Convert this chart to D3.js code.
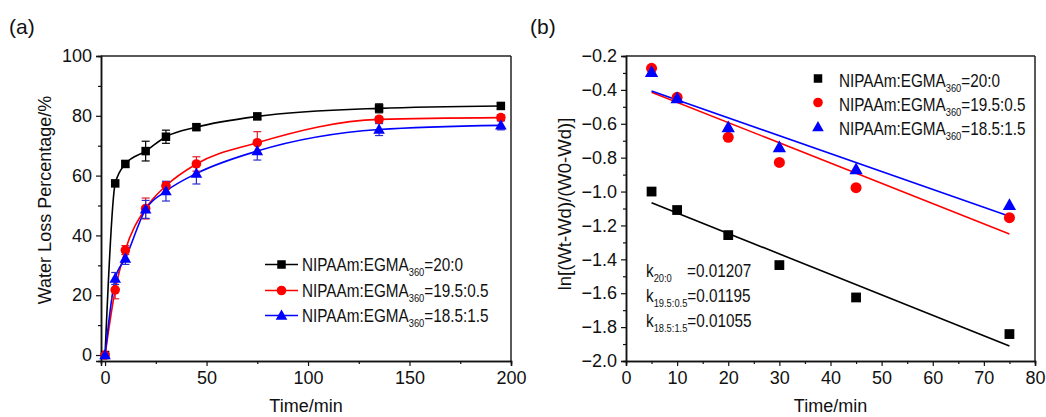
<!DOCTYPE html>
<html><head><meta charset="utf-8">
<script src="https://cdn.jsdelivr.net/npm/d3@7"></script>
<style>
html,body{margin:0;padding:0;background:#fff;}
svg text{font-family:"Liberation Sans",Arial,sans-serif;fill:#111;}
</style></head>
<body><svg id="c" width="1046" height="417"></svg>
<script>
// ---------- Data: panel (a) ----------
const timeA = [0, 5, 10, 20, 30, 45, 75, 135, 195];
const black_a = [0, 57.4, 63.9, 68.2, 73.0, 76.2, 79.8, 82.5, 83.3];
const red_a   = [0, 21.8, 35.1, 49.0, 56.6, 63.9, 71.0, 78.8, 79.4];
const blue_a  = [0, 25.6, 32.3, 48.7, 54.8, 60.7, 68.2, 75.4, 76.8];
const black_err = [0, 0, 1, 3.3, 2.2, 1, 1, 1.5, 1];
const red_err   = [0, 3, 1.5, 3.5, 1.2, 2.4, 3.7, 1, 1];
const blue_err  = [0, 2, 2, 3, 3.3, 3.5, 3, 2, 1.5];
const xTicksA = [0, 50, 100, 150, 200];
const yTicksA = [0, 20, 40, 60, 80, 100];

// ---------- Data: panel (b) ----------
const timeB = [5, 10, 20, 30, 45, 75];
const black_b = [-1.00, -1.109, -1.257, -1.434, -1.625, -1.841];
const red_b   = [-0.273, -0.444, -0.680, -0.828, -0.977, -1.154];
const blue_b  = [-0.296, -0.450, -0.621, -0.739, -0.869, -1.080];
const kValues = [0.01207, 0.01195, 0.01055];
const fitIntercepts = [-1.006, -0.354, -0.354];
const fitRange = [5, 75];
const xTicksB = [0, 10, 20, 30, 40, 50, 60, 70, 80];
const yTicksB = [-2.0, -1.8, -1.6, -1.4, -1.2, -1.0, -0.8, -0.6, -0.4, -0.2];

const seriesNames = ["=20:0", "=19.5:0.5", "=18.5:1.5"];
const kSubs = ["20:0", "19.5:0.5", "18.5:1.5"];
const colors = ["#000000", "#ff0000", "#0000ff"];
const errColors = ["#000000", "#e0202a", "#2a2ad0"];
const shapes = ["square", "circle", "triangle"];

const svg = d3.select("#c");
const FS = 18;
const SQ = 0.85; // horizontal squeeze of legend text, as in the reference

function marker(g, shape, x, y, color, big) {
  const s = big ? 1.15 : 1;
  if (shape === "square") {
    const a = 8.5 * s;
    g.append("rect").attr("x", x - a/2).attr("y", y - a/2).attr("width", a).attr("height", a).attr("fill", color);
  } else if (shape === "circle") {
    g.append("circle").attr("cx", x).attr("cy", y).attr("r", 4.8 * s).attr("fill", color);
  } else {
    const h = 10 * s;
    g.append("path").attr("d", `M${x},${y - h*0.6}L${x + h*0.58},${y + h*0.42}L${x - h*0.58},${y + h*0.42}Z`).attr("fill", color);
  }
}

function sqText(x, y) {
  return svg.append("g").attr("transform", `translate(${x},${y}) scale(${SQ},1)`)
    .append("text").attr("x", 0).attr("y", 0).attr("font-size", FS);
}

function frame(L, R, T, B, x, y, xTicks, yTicks, xMinor, yMinor, yFmt) {
  const g = svg.append("g");
  g.append("line").attr("x1", L).attr("x2", R).attr("y1", T).attr("y2", T).attr("stroke", "#222").attr("stroke-width", 1.5);
  g.append("line").attr("x1", R).attr("x2", R).attr("y1", T).attr("y2", B).attr("stroke", "#222").attr("stroke-width", 1.5);
  const xa = g.append("g").attr("transform", `translate(0,${B})`)
    .call(d3.axisBottom(x).tickValues(xTicks).tickSize(5).tickPadding(5).tickFormat(d3.format("d")));
  const xm = g.append("g").attr("transform", `translate(0,${B})`)
    .call(d3.axisBottom(x).tickValues(xMinor).tickSize(3).tickFormat(""));
  const ya = g.append("g").attr("transform", `translate(${L},0)`)
    .call(d3.axisLeft(y).tickValues(yTicks).tickSize(5).tickPadding(4).tickFormat(yFmt));
  const ym = g.append("g").attr("transform", `translate(${L},0)`)
    .call(d3.axisLeft(y).tickValues(yMinor).tickSize(3).tickFormat(""));
  [xa, xm, ya, ym].forEach(a => {
    a.select(".domain").attr("stroke", "#111").attr("stroke-width", 1.5);
    a.selectAll(".tick line").attr("stroke", "#111").attr("stroke-width", 1.2);
    a.selectAll("text").attr("font-size", FS).attr("font-family", '"Liberation Sans",Arial,sans-serif').attr("fill", "#111");
  });
  return g;
}

// ================= Panel (a) =================
{
  const L = 101, R = 511, T = 56, B = 361;
  const x = d3.scaleLinear().domain([-2, 200]).range([L, R]);
  const y = d3.scaleLinear().domain([-2, 100]).range([B, T]);
  const xMinor = d3.range(25, 200, 50);
  const yMinor = d3.range(10, 100, 20);
  frame(L, R, T, B, x, y, xTicksA, yTicksA, xMinor, yMinor, d3.format("d"));

  svg.append("text").attr("x", 9).attr("y", 34).attr("font-size", 21).text("(a)");
  svg.append("text").attr("x", (L + R) / 2).attr("y", 412).attr("text-anchor", "middle").attr("font-size", FS).text("Time/min");
  svg.append("text").attr("transform", `translate(51,200) rotate(-90)`).attr("text-anchor", "middle").attr("font-size", FS).text("Water Loss Percentage/%");

  svg.append("clipPath").attr("id", "clipA").append("rect").attr("x", L).attr("y", T).attr("width", R - L).attr("height", B - T);
  const plot = svg.append("g").attr("clip-path", "url(#clipA)");
  const vals = [black_a, red_a, blue_a];
  const errs = [black_err, red_err, blue_err];
  const line = d3.line().x(d => x(d[0])).y(d => y(d[1])).curve(d3.curveMonotoneX);
  vals.forEach((v, i) => {
    plot.append("path").datum(timeA.map((t, j) => [t, v[j]]))
      .attr("d", line).attr("fill", "none").attr("stroke", colors[i]).attr("stroke-width", 1.6);
  });
  vals.forEach((v, i) => {
    timeA.forEach((t, j) => {
      const e = errs[i][j];
      if (!e) return;
      const cx = x(t), y1 = y(v[j] - e), y2 = y(v[j] + e);
      plot.append("line").attr("x1", cx).attr("x2", cx).attr("y1", y1).attr("y2", y2).attr("stroke", errColors[i]).attr("stroke-width", 1.2);
      [y1, y2].forEach(yy => plot.append("line").attr("x1", cx - 4).attr("x2", cx + 4).attr("y1", yy).attr("y2", yy).attr("stroke", errColors[i]).attr("stroke-width", 1.2));
    });
  });
  vals.forEach((v, i) => {
    timeA.forEach((t, j) => marker(svg, shapes[i], x(t), y(v[j]), colors[i], false));
  });

  const lx0 = 265, lx1 = 298, tx = 302, rows = [271, 297, 322];
  rows.forEach((by, i) => {
    const cy = by - 6.5;
    svg.append("line").attr("x1", lx0).attr("x2", lx1).attr("y1", cy).attr("y2", cy).attr("stroke", colors[i]).attr("stroke-width", 1.6);
    marker(svg, shapes[i], (lx0 + lx1) / 2, cy, colors[i], false);
    const t = sqText(tx, by);
    t.append("tspan").text("NIPAAm:EGMA");
    t.append("tspan").attr("font-size", 11).attr("dy", 5).text("360");
    t.append("tspan").attr("dy", -5).text(seriesNames[i]);
  });
}

// ================= Panel (b) =================
{
  const L = 626, R = 1035, T = 56, B = 361;
  const x = d3.scaleLinear().domain([0, 80]).range([L, R]);
  const y = d3.scaleLinear().domain([-2.0, -0.2]).range([B, T]);
  const xMinor = d3.range(5, 80, 10);
  const yMinor = d3.range(-1.9, -0.2, 0.2).map(d => +d.toFixed(2));
  frame(L, R, T, B, x, y, xTicksB, yTicksB, xMinor, yMinor, d3.format(".1f"));

  svg.append("text").attr("x", 530).attr("y", 34).attr("font-size", 21).text("(b)");
  svg.append("text").attr("x", (L + R) / 2).attr("y", 412).attr("text-anchor", "middle").attr("font-size", FS).text("Time/min");
  svg.append("text").attr("transform", `translate(571,204) rotate(-90)`).attr("text-anchor", "middle")
    .attr("font-size", 18.5).attr("font-family", '"Open Sans","DejaVu Sans",sans-serif').text("ln[(Wt-Wd)/(W0-Wd)]");

  const vals = [black_b, red_b, blue_b];
  kValues.forEach((k, i) => {
    const f = t => fitIntercepts[i] - k * t;
    svg.append("line").attr("x1", x(fitRange[0])).attr("y1", y(f(fitRange[0])))
      .attr("x2", x(fitRange[1])).attr("y2", y(f(fitRange[1])))
      .attr("stroke", colors[i]).attr("stroke-width", 1.6);
  });
  vals.forEach((v, i) => {
    timeB.forEach((t, j) => marker(svg, shapes[i], x(t), y(v[j]), colors[i], true));
  });

  const mx = 818, tx = 839, rows = [86.5, 110.5, 135];
  rows.forEach((by, i) => {
    marker(svg, shapes[i], mx, by - 8, colors[i], false);
    const t = sqText(tx, by);
    t.append("tspan").text("NIPAAm:EGMA");
    t.append("tspan").attr("font-size", 11).attr("dy", 5).text("360");
    t.append("tspan").attr("dy", -5).text(seriesNames[i]);
  });

  const kRows = [277, 302, 327];
  kRows.forEach((by, i) => {
    const t = sqText(646, by);
    t.append("tspan").text("k");
    t.append("tspan").attr("font-size", 11).attr("dy", 5).text(kSubs[i]);
    const v = t.append("tspan").attr("dy", -5).text("=" + kValues[i].toFixed(5));
    if (i === 0) v.attr("x", (687 - 646) / SQ);
  });
}
</script></body></html>
